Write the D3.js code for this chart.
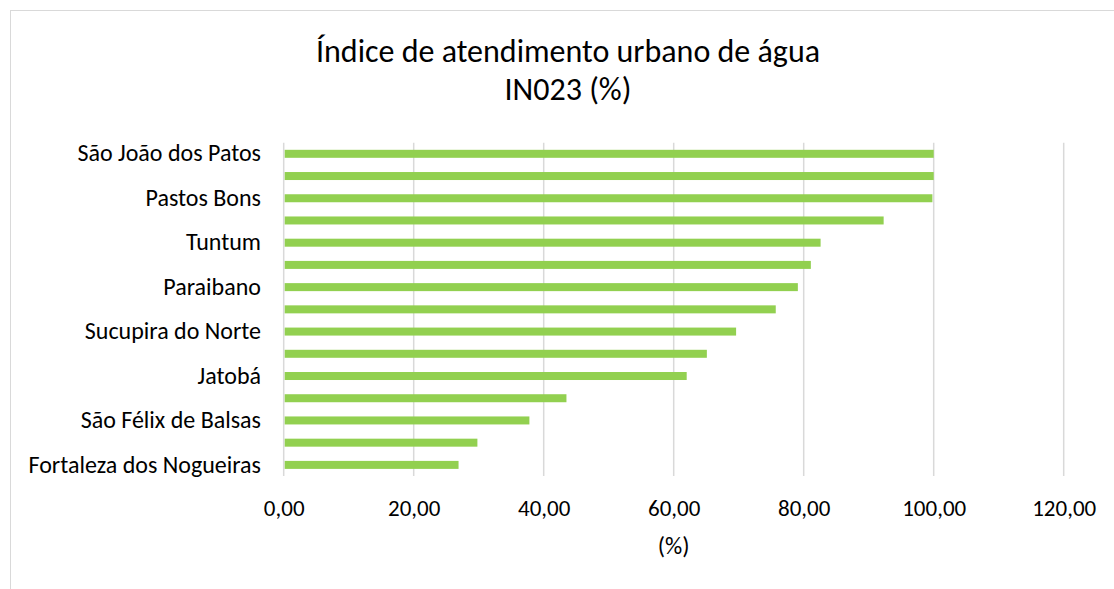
<!DOCTYPE html>
<html><head><meta charset="utf-8">
<script src="https://cdn.jsdelivr.net/npm/d3@7/dist/d3.min.js"></script>
<style>body{margin:0;background:#fff}svg{display:block}text{font-family:Carlito,Lato,sans-serif;fill:#000}</style>
</head><body><svg id="c" width="1114" height="589"></svg>
<script>
const categories = ["São João dos Patos","c2","Pastos Bons","c4","Tuntum","c6","Paraibano","c8","Sucupira do Norte","c10","Jatobá","c12","São Félix de Balsas","c14","Fortaleza dos Nogueiras"];
const shownLabels = ["São João dos Patos","","Pastos Bons","","Tuntum","","Paraibano","","Sucupira do Norte","","Jatobá","","São Félix de Balsas","","Fortaleza dos Nogueiras"];
const values = [100, 100, 99.8, 92.3, 82.6, 81.1, 79.1, 75.7, 69.6, 65.1, 62.0, 43.5, 37.8, 29.8, 26.9];
const xTicks = [0, 20, 40, 60, 80, 100, 120];
const titleLines = ["Índice de atendimento urbano de água", "IN023 (%)"];
const axisTitle = "(%)";

const svg = d3.select("#c");
svg.append("rect").attr("x",10.5).attr("y",10.5).attr("width",1200).attr("height",700)
  .attr("fill","#fff").attr("stroke","#d9d9d9").attr("stroke-width",1);

const x = d3.scaleLinear().domain([0,120]).range([283.7,1063.7]);
const y = d3.scaleBand().domain(categories).range([142.7,476]).paddingInner(0.64).paddingOuter(0.32);

const g = svg.append("g");
g.selectAll("line.grid").data(xTicks).join("line").attr("class","grid")
  .attr("x1",d=>x(d)).attr("x2",d=>x(d)).attr("y1",142.7).attr("y2",476)
  .attr("stroke","#d9d9d9").attr("stroke-width",1.5);

g.selectAll("rect.bar").data(values).join("rect").attr("class","bar")
  .attr("x",x(0)+1).attr("y",(d,i)=>y(categories[i]))
  .attr("width",d=>x(d)-x(0)-1).attr("height",y.bandwidth()).attr("fill","#92d050");

const fmt = d => d3.format(".2f")(d).replace(".",",");
const xAxis = d3.axisBottom(x).tickValues(xTicks).tickFormat(fmt).tickSize(0).tickPadding(0);
const ax = svg.append("g").attr("transform","translate(0,516)").call(xAxis);
ax.select(".domain").remove();
ax.selectAll("text").attr("font-size",23).attr("font-family","Carlito,Lato,sans-serif").attr("fill","#000").attr("dy","0");

const yAxis = d3.axisLeft(y).tickFormat((d,i)=>shownLabels[i]).tickSize(0).tickPadding(0);
const ay = svg.append("g").attr("transform","translate(261,0)").call(yAxis);
ay.select(".domain").remove();
ay.selectAll("text").attr("font-size",24).attr("font-family","Carlito,Lato,sans-serif").attr("fill","#000");

svg.append("text").attr("x",568).attr("y",62).attr("text-anchor","middle").attr("font-size",32).text(titleLines[0]);
svg.append("text").attr("x",568).attr("y",100).attr("text-anchor","middle").attr("font-size",32).text(titleLines[1]);
svg.append("text").attr("x",673.7).attr("y",554).attr("text-anchor","middle").attr("font-size",24).text(axisTitle);
</script></body></html>
